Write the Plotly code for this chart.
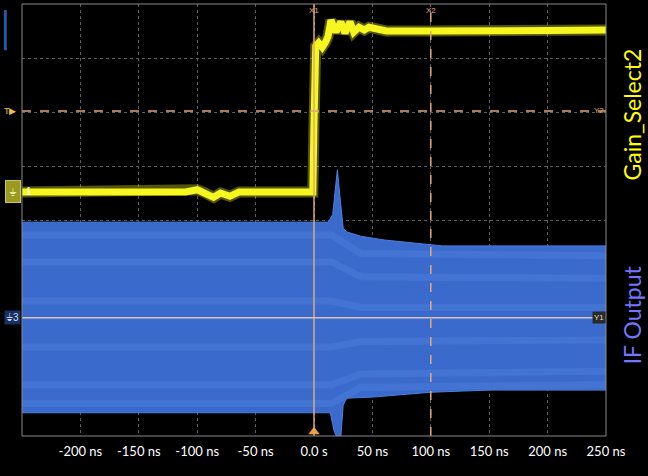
import plotly.graph_objects as go

# time axis in ns, vertical values in scope divisions (centre of screen = 0)
tick_vals = [-200, -150, -100, -50, 0, 50, 100, 150, 200, 250]
tick_text = ['-200 ns', '-150 ns', '-100 ns', '-50 ns', '0.0 s',
             '50 ns', '100 ns', '150 ns', '200 ns', '250 ns']

# Gain_Select2 (yellow, channel 1)
gain_t = [-250, -110, -100, -93, -86, -80, -72, -64, -1, 0, 1.5, 4, 7, 10, 12,
          14.5, 18.8, 23, 26.5, 30.8, 34, 38.5, 43, 47, 53, 62, 100, 150, 200, 250]
gain_v = [0.52, 0.52, 0.56, 0.50, 0.42, 0.50, 0.44, 0.52, 0.52, 1.8, 3.22, 3.28, 3.20, 3.30, 3.40,
          3.70, 3.48, 3.67, 3.46, 3.67, 3.48, 3.57, 3.52, 3.57, 3.55, 3.50, 3.50, 3.52, 3.51, 3.52]

# IF Output (blue, channel 3) - envelope of the dense carrier
if_top_t = [-250, 12, 16, 20, 22.5, 25, 28, 40, 60, 90, 110, 250]
if_top_v = [-0.04, -0.04, 0.10, 0.93, 0.37, -0.15, -0.22, -0.30, -0.37, -0.44, -0.48, -0.48]
if_bot_t = [-250, 14, 17, 19, 23, 25, 28, 50, 100, 150, 250]
if_bot_v = [-3.57, -3.57, -3.89, -4.0, -4.0, -3.43, -3.30, -3.28, -3.19, -3.15, -3.15]

# lighter aliasing bands inside the IF band (pre-step level, post-step level)
band_t = [-250, 15, 40, 250]
band_levels = [
    [-0.28, -0.28, -0.62, -0.66],
    [-0.78, -0.78, -1.05, -1.08],
    [-1.50, -1.50, -1.62, -1.62],
    [-2.35, -2.35, -2.25, -2.22],
    [-3.05, -3.05, -2.85, -2.80],
    [-3.40, -3.40, -3.10, -3.05],
]

# cursors
x1_pos, x2_pos = 0, 100
y1_pos, y2_pos = -1.81, 2.02

fig = go.Figure()

# IF output band
fig.add_trace(go.Scatter(
    x=if_top_t + if_bot_t[::-1], y=if_top_v + if_bot_v[::-1],
    mode='lines', fill='toself', fillcolor='#3a6bcc',
    line=dict(color='#4a7fe0', width=1), hoverinfo='skip'))
for lvl in band_levels:
    fig.add_trace(go.Scatter(x=band_t, y=lvl, mode='lines',
                             line=dict(color='rgba(110,160,245,0.18)', width=7),
                             hoverinfo='skip'))

# Gain_Select2 trace
fig.add_trace(go.Scatter(x=gain_t, y=gain_v, mode='lines',
                         line=dict(color='rgba(245,245,30,0.35)', width=11), hoverinfo='skip'))
fig.add_trace(go.Scatter(x=gain_t, y=gain_v, mode='lines',
                         line=dict(color='#f6f620', width=7), hoverinfo='skip'))

cur = '#e0a878'
fig.add_shape(type='line', xref='x', yref='paper', x0=x1_pos, x1=x1_pos, y0=0, y1=1,
              line=dict(color=cur, width=1.5))
fig.add_shape(type='line', xref='x', yref='paper', x0=x2_pos, x1=x2_pos, y0=0, y1=1,
              line=dict(color=cur, width=1.5, dash='dash'))
fig.add_shape(type='line', xref='paper', yref='y', x0=0, x1=1, y0=y2_pos, y1=y2_pos,
              line=dict(color=cur, width=1.5, dash='dash'))
fig.add_shape(type='line', xref='paper', yref='y', x0=0, x1=1, y0=y1_pos, y1=y1_pos,
              line=dict(color='#d8c0b8', width=1.5))
# frame
fig.add_shape(type='rect', xref='paper', yref='paper', x0=0, x1=1, y0=0, y1=1,
              line=dict(color='#8a8a8a', width=1))
# small blue bar in the left strip
fig.add_shape(type='rect', xref='paper', yref='paper', x0=-0.031, x1=-0.026, y0=0.893, y1=0.986,
              line=dict(width=0), fillcolor='#2858a8')
# trigger position marker at bottom
fig.add_trace(go.Scatter(x=[x1_pos], y=[-3.92], mode='markers',
                         marker=dict(symbol='triangle-up', size=10, color='#f0a030'),
                         hoverinfo='skip'))

small = dict(family='Arial', size=8, color=cur)
annotations = [
    dict(x=x1_pos, y=1, xref='x', yref='paper', text='X1', showarrow=False,
         yanchor='top', font=small),
    dict(x=x2_pos, y=1, xref='x', yref='paper', text='X2', showarrow=False,
         yanchor='top', font=small),
    dict(x=1, y=y2_pos, xref='paper', yref='y', text='Y2', showarrow=False,
         xanchor='right', font=small),
    dict(x=1, y=y1_pos, xref='paper', yref='y', text='Y1', showarrow=False,
         xanchor='right', font=dict(family='Arial', size=8, color='#e8d8c0'),
         bgcolor='#2a2a2a'),
    dict(x=-0.005, y=y2_pos, xref='paper', yref='y', text='T\u25B6', showarrow=False,
         xanchor='right', font=dict(family='Arial', size=9, color='#f0c040')),
    dict(x=-0.002, y=0.52, xref='paper', yref='y', text='\u23da', showarrow=False,
         xanchor='right', font=dict(size=11, color='#e8e8a0'),
         bgcolor='#9a9a20', bordercolor='#c8c860', borderpad=3),
    dict(x=0.004, y=0.52, xref='paper', yref='y', text='1', showarrow=False,
         xanchor='left', font=dict(family='Arial', size=10, color='white')),
    dict(x=-0.002, y=y1_pos, xref='paper', yref='y', text='\u23da3', showarrow=False,
         xanchor='right', font=dict(family='Arial', size=10, color='#c8d8ff'),
         bgcolor='#1a3060'),
    dict(x=1.045, y=0.745, xref='paper', yref='paper', text='Gain_Select2', showarrow=False,
         xanchor='center', yanchor='middle', textangle=-90,
         font=dict(family='Lato', size=23, color='#ffff00')),
    dict(x=1.045, y=0.28, xref='paper', yref='paper', text='IF Output', showarrow=False,
         xanchor='center', yanchor='middle', textangle=-90,
         font=dict(family='Lato', size=23, color='#7474ff')),
]

fig.update_layout(
    width=648, height=476,
    margin=dict(l=22, r=42, t=4, b=40),
    paper_bgcolor='black', plot_bgcolor='black',
    showlegend=False,
    annotations=annotations,
    xaxis=dict(range=[-250, 250], tickvals=tick_vals, ticktext=tick_text,
               showgrid=True, gridcolor='#5c5c5c', griddash='dot', gridwidth=1,
               zeroline=False, ticks='outside', ticklen=3, tickcolor='black',
               tickfont=dict(family='Lato', size=13, color='white')),
    yaxis=dict(range=[-4, 4], dtick=1, showgrid=True, gridcolor='#5c5c5c',
               griddash='dot', gridwidth=1, zeroline=False, showticklabels=False),
)

fig.write_html('out.html', config={'displayModeBar': False},
               post_script="document.body.style.margin='0px';")
